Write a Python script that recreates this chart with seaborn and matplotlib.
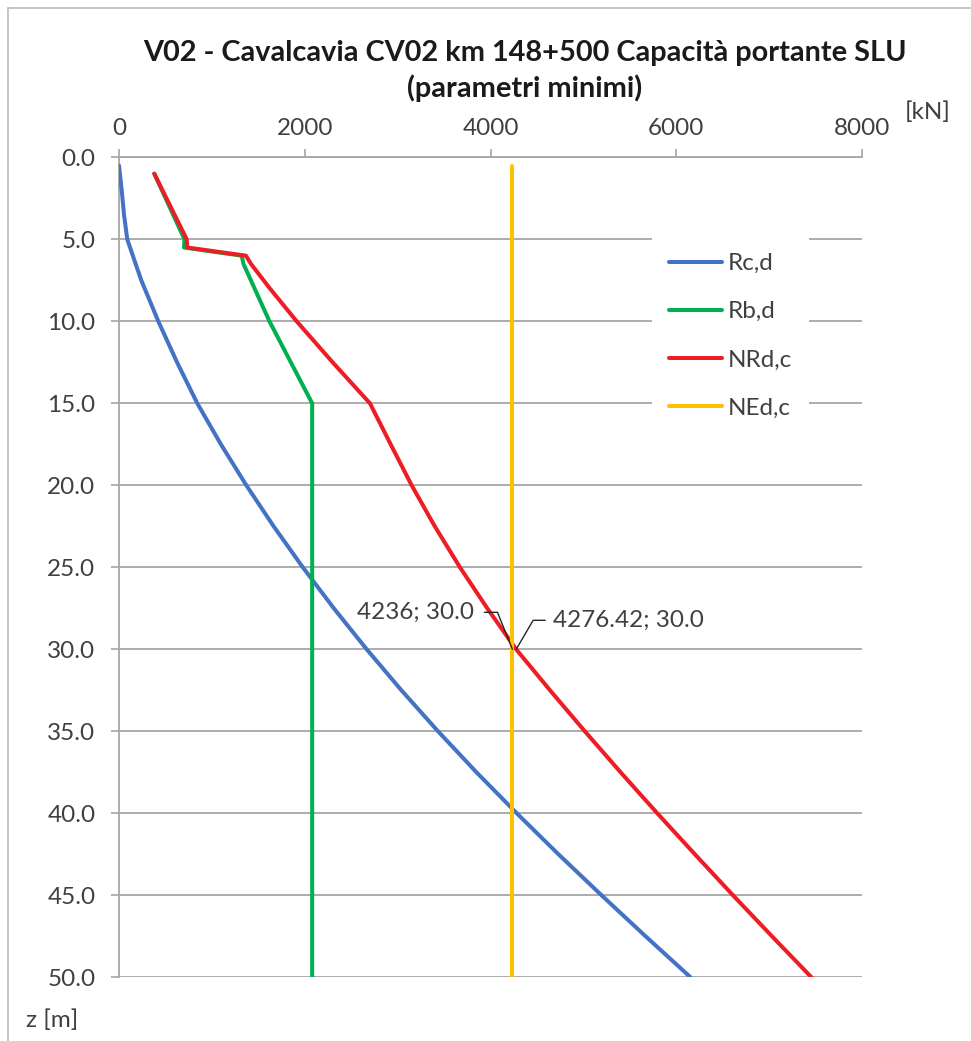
import matplotlib
matplotlib.use("Agg")
import matplotlib.pyplot as plt
from matplotlib.lines import Line2D
import pandas as pd
import seaborn as sns

# ---- data: depth z [m] and design values [kN] ----
z_rc = [0.5, 2.0, 3.5, 5.0, 5.8, 7.5, 10.0, 12.5, 15.0, 17.5, 20.0, 22.5, 25.0, 27.5,
        30.0, 32.5, 35.0, 37.5, 40.0, 42.5, 45.0, 47.5, 50.0]
rc_d = [0, 29, 54, 89, 137, 240, 423, 625, 843, 1097, 1371, 1665, 1979, 2313,
        2667, 3041, 3435, 3849, 4283, 4732, 5196, 5670, 6154]

z_rb = [1.0, 5.0, 5.5, 6.0, 6.5, 10.0, 15.0, 20.0, 25.0, 30.0, 35.0, 40.0, 45.0, 50.0]
rb_d = [380, 705, 700, 1321, 1340, 1620, 2080, 2080, 2080, 2080, 2080, 2080, 2080, 2080]

z_nrd = [1.0, 5.0, 5.5, 6.0, 6.5, 8.0, 10.0, 12.5, 15.0, 17.5, 20.0, 22.5, 25.0, 27.5,
         30.0, 32.5, 35.0, 37.5, 40.0, 42.5, 45.0, 47.5, 50.0]
nrd_c = [380, 729, 735, 1367, 1421, 1625, 1913, 2300, 2702, 2925, 3151, 3400, 3671, 3965,
         4276.42, 4641, 5016, 5401, 5796, 6201, 6611, 7031, 7456]

z_ned = [0.5, 50.0]
ned_c = [4236, 4236]

series_names = ["Rc,d", "Rb,d", "NRd,c", "NEd,c"]
series_colors = ["#4472C4", "#00B050", "#EE1C25", "#FFC000"]

x_ticks = [0, 2000, 4000, 6000, 8000]
y_ticks = [0, 5, 10, 15, 20, 25, 30, 35, 40, 45, 50]

title_text = "V02 - Cavalcavia CV02 km 148+500 Capacità portante SLU\n(parametri minimi)"

# ---- long table for seaborn ----
frames = []
for name, zs, vals in zip(series_names, [z_rc, z_rb, z_nrd, z_ned], [rc_d, rb_d, nrd_c, ned_c]):
    frames.append(pd.DataFrame({"serie": name, "z": zs, "N": vals}))
df = pd.concat(frames, ignore_index=True)

sns.set_theme(style="white")
plt.rcParams["font.family"] = ["Lato", "DejaVu Sans"]

W, H = 971, 1041
fig = plt.figure(figsize=(W / 100, H / 100), dpi=100)
ax = fig.add_axes([119 / W, 1 - 977.3 / H, (862 - 119) / W, (977.3 - 157.3) / H])

palette = dict(zip(series_names, series_colors))
sns.lineplot(data=df, x="N", y="z", hue="serie", palette=palette, sort=False,
             estimator=None, linewidth=2.9, legend=False, ax=ax, zorder=3)
for ln in ax.get_lines():
    ln.set_solid_joinstyle("round")

grid_c = "#A6A6A6"
text_c = "#404040"
ax.set_xlim(x_ticks[0], x_ticks[-1])
ax.set_ylim(y_ticks[-1], y_ticks[0])
ax.xaxis.tick_top()
ax.set_xticks(x_ticks)
ax.set_xticklabels([f"{v:d}" for v in x_ticks])
ax.set_yticks(y_ticks)
ax.set_yticklabels([f"{v:.1f}" for v in y_ticks])
ax.set_xlabel("")
ax.set_ylabel("")
ax.yaxis.grid(True, color=grid_c, linewidth=1.3, zorder=0)
ax.xaxis.grid(False)
for side in ["top", "left"]:
    ax.spines[side].set_color(grid_c)
    ax.spines[side].set_linewidth(1.3)
ax.spines["right"].set_visible(False)
ax.spines["bottom"].set_visible(False)
ax.tick_params(axis="x", which="both", top=True, bottom=False, direction="out",
               length=6, width=1.2, color=grid_c, labelsize=17.5, labelcolor=text_c, pad=7)
ax.tick_params(axis="y", which="both", left=True, direction="out",
               length=6, width=1.2, color=grid_c, labelsize=17.5, labelcolor=text_c, pad=11)

# data labels with elbow leader lines
ax.annotate("4236; 30.0", xy=(ned_c[0], 30.0), xytext=(-38, 37),
            textcoords="offset pixels", ha="right", va="center", fontsize=17.5, color=text_c, zorder=5)
ax.annotate("", xy=(ned_c[0], 30.0), xytext=(-28, 37), textcoords="offset pixels",
            arrowprops=dict(arrowstyle="-", color="#262626", lw=1.0, shrinkA=0, shrinkB=0,
                            connectionstyle="angle,angleA=0,angleB=112,rad=0"), zorder=5)
ax.annotate(f"{nrd_c[14]:.2f}; 30.0", xy=(nrd_c[14], 30.0), xytext=(37, 29),
            textcoords="offset pixels", ha="left", va="center", fontsize=17.5, color=text_c, zorder=5)
ax.annotate("", xy=(nrd_c[14], 30.0), xytext=(29, 29), textcoords="offset pixels",
            arrowprops=dict(arrowstyle="-", color="#262626", lw=1.0, shrinkA=0, shrinkB=0,
                            connectionstyle="angle,angleA=0,angleB=59.6,rad=0"), zorder=5)

# legend inside the plot area, white box without border
handles = [Line2D([0], [0], color=c, lw=2.9, solid_capstyle="round") for c in series_colors]
leg = ax.legend(handles, series_names, loc="upper left",
                bbox_to_anchor=(652 / W, 1 - 236 / H), bbox_transform=fig.transFigure,
                borderaxespad=0, frameon=True, fancybox=False, fontsize=17.5,
                handlelength=2.2, handletextpad=0.22, labelspacing=1.12, borderpad=0.7)
leg.get_frame().set_facecolor("white")
leg.get_frame().set_edgecolor("none")
leg.get_frame().set_alpha(1.0)
for t in leg.get_texts():
    t.set_color(text_c)

# title and unit labels
fig.text(525 / W, 1 - 71 / H, title_text, ha="center", va="center", fontsize=20.8,
         fontweight="bold", color="#1a1a1a", linespacing=1.38)
fig.text(928 / W, 1 - 112 / H, "[kN]", ha="center", va="center", fontsize=17.5, color=text_c)
fig.text(52 / W, 1 - 1020 / H, "z [m]", ha="center", va="center", fontsize=17.5, color=text_c)

# chart frame (top and left edges)
fig.add_artist(Line2D([8 / W, 8 / W], [0, 1 - 8 / H], transform=fig.transFigure,
                      color="#BFBFBF", lw=1.3))
fig.add_artist(Line2D([8 / W, 1], [1 - 8 / H, 1 - 8 / H], transform=fig.transFigure,
                      color="#BFBFBF", lw=1.3))

fig.savefig("out.png", dpi=100, facecolor="white")
